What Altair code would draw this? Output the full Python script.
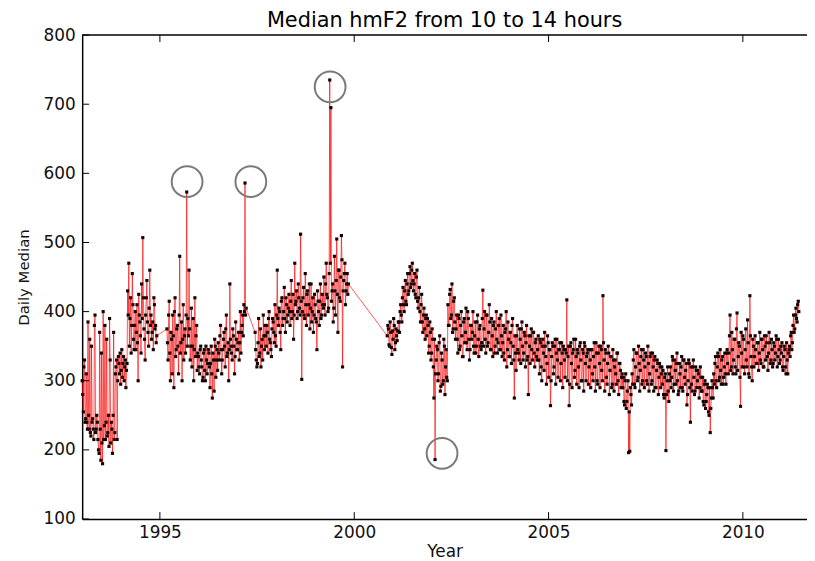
import altair as alt
import pandas as pd

STEP = 0.03  # sampling interval (years) used when reading the curve

# ---- values, segment by segment ----
# primary readings at start + i*STEP, secondary readings halfway between
seg_a_start = 1993.00
seg_a = [300, 255, 330, 245,
         240, 385, 230, 225, 350, 245, 215, 395, 230, 240,
         200, 370, 185, 210, 400,
         235, 215, 360, 225, 205, 330, 240, 195, 370, 225,
         320, 215, 335, 310, 295, 345, 325, 300, 330, 315,
         430, 470, 390, 340, 455, 360,
         380, 345, 410, 300, 395, 365, 440,
         507, 375, 330, 420, 385, 350, 460,
         395, 370, 345, 410, 380, 365]
seg_a2 = [280, 320, 240, 310,
          230, 250, 360, 220, 240, 230, 380, 225, 250, 215,
          195, 230, 340, 180, 215,
          380, 240, 220, 250, 390, 210, 230, 250, 215, 310,
          330, 300, 325, 340, 315, 305, 335, 320, 290, 325,
          395, 350, 420, 380, 410, 345,
          400, 370, 355, 425, 385, 340, 390,
          420, 360, 395, 445, 370, 405, 380,
          360, 385, 420, 375, 355, 370]

seg_b_start = 1995.18
seg_b = [375, 330, 415, 300, 360, 395, 290, 420, 345, 380, 310,
         480, 355, 300, 410, 365, 340, 573, 390,
         460, 330, 405, 350, 300, 420, 365, 315,
         335, 310, 350, 320, 305, 345, 300, 330, 325, 340,
         290, 350, 275, 330, 360, 305, 345,
         355, 330, 380, 310, 345, 370, 320, 395, 340, 300,
         440, 350, 330, 365, 310, 385, 345, 355, 330, 400, 370, 395, 410, 586,
         405]
seg_b2 = [355, 395, 340, 370, 310, 365, 400, 335, 375, 350, 395,
          340, 385, 360, 330, 375, 395, 350, 365,
          375, 350, 320, 390, 345, 335, 380, 340,
          320, 345, 330, 300, 340, 315, 350, 310, 345, 320,
          325, 310, 340, 285, 350, 330, 315,
          340, 365, 345, 330, 360, 350, 375, 335, 355, 345,
          360, 340, 375, 350, 335, 360, 345, 370, 355, 340, 380, 365, 400, 395,
          400]

seg_c_start = 1997.45
seg_c = [370, 330, 325, 390, 340, 320, 360, 395, 345,
         365, 380, 340, 400, 355, 335, 390, 370, 410, 350,
         460, 380, 400, 345, 420, 390, 435, 370, 410, 395,
         425, 380, 445, 400, 360, 470, 415, 390, 440, 405,
         512, 302, 420, 395, 455, 380, 430, 410, 375, 440,
         400, 370, 425, 390, 345, 415, 380, 440, 395, 410,
         450, 395, 470, 420, 405, 735, 695, 430, 385, 480,
         395, 505, 370, 460, 415, 510, 320, 445, 470, 430, 455, 440]
seg_c2 = [345, 320, 355, 335, 375, 350, 330, 365, 380,
          350, 370, 390, 360, 345, 375, 385, 355, 365, 395,
          390, 405, 370, 415, 380, 400, 390, 420, 385, 405,
          400, 415, 390, 425, 395, 410, 430, 400, 420, 395,
          415, 400, 435, 390, 410, 425, 395, 440, 405, 385,
          420, 395, 410, 385, 430, 400, 415, 390, 425, 405,
          410, 440, 425, 400, 455, 470, 415, 440, 405, 430,
          445, 425, 460, 420, 450, 475, 430, 455, 410, 440, 425, 435]

seg_d_start = 2000.85
seg_d = [365, 375, 350, 370, 338, 360, 380, 355, 365, 372,
         385, 400, 395, 420, 410, 430, 415, 440, 425, 455, 435, 460, 445,
         440, 425, 450, 415, 420, 400, 410, 385, 395, 375, 390,
         365, 380, 350, 370, 340, 360, 275, 186, 330,
         345, 310, 365, 292, 330, 300, 350, 320, 305,
         410, 380, 432, 395, 370, 415, 385,
         375, 360, 395, 345, 380, 365, 335, 390, 370, 355, 400, 360, 345, 380, 370, 350, 365, 340, 385, 360, 375, 350, 355,
         431, 375, 360, 395, 350, 370, 385, 345, 365, 380, 340, 375, 360, 355, 390, 345, 365,
         355, 340, 370, 400, 345, 360, 335, 355, 380, 350, 275, 340, 365, 345, 330, 360, 375, 350, 340, 365, 355, 330, 280, 350, 365, 345, 370, 340, 355, 335,
         345, 330, 360, 320, 350, 340, 370, 335, 325, 355, 345, 264, 335, 350, 320, 360, 340, 330, 345, 355, 325, 340, 350, 330, 345,
         417, 335, 264, 350, 325, 340, 360, 315, 335, 345, 320, 350, 330, 300, 340, 355, 325, 335, 345, 320,
         330, 345, 310, 335, 320, 355, 300, 340, 325, 350, 315, 423, 330, 345, 305, 325, 340, 315, 335, 295, 330, 320, 310, 340, 300, 325, 315, 305,
         290, 270, 300, 260, 285, 196, 198, 280,
         310, 330, 295, 320, 340, 305, 325, 315, 345, 300, 330, 320, 335, 295, 325, 310, 340, 300, 320, 330, 290, 315, 325, 305, 320, 310,
         295, 280, 305, 199, 300, 285, 310,
         320, 305, 330, 295, 315, 325, 300, 285, 310, 320, 290, 330, 305, 315, 265, 300, 325, 240, 295, 320, 305, 285, 315, 300, 310, 290, 305,
         285, 270, 295, 260, 280, 290, 250, 225, 275, 290,
         310, 325, 300, 320, 335, 305, 315, 330, 295, 320, 310, 340, 325,
         340, 395, 320, 345, 330, 360, 310, 398, 335, 350, 263, 340, 365, 320, 345, 330, 388, 310, 423, 335,
         300, 350, 335, 345, 325, 355, 340, 330, 360, 345, 320, 350, 365, 335, 340, 355, 330, 345, 325, 350, 340, 360, 335, 345, 330,
         340, 320, 335, 345, 310, 330, 340,
         350, 365, 345, 380, 370, 395, 390, 410, 400]
seg_d2 = [380, 352, 385, 348, 372, 390, 345, 375, 358, 385,
          370, 410, 385, 435, 400, 445, 410, 455, 430, 465, 440, 470, 430,
          455, 420, 460, 405, 435, 385, 425, 370, 405, 360, 395,
          390, 340, 385, 330, 375, 320, 360, 310, 350,
          300, 355, 285, 340, 295, 360, 280, 345, 300,
          380, 425, 390, 440, 375, 420, 360,
          395, 340, 390, 350, 400, 335, 385, 355, 405, 345, 390, 330, 380, 360, 400, 340, 385, 350, 395, 335, 380, 345, 390,
          350, 400, 340, 395, 355, 410, 345, 390, 335, 385, 350, 400, 340, 380, 345, 395, 335,
          380, 330, 375, 320, 385, 335, 370, 325, 390, 330, 365, 315, 380, 340, 375, 325, 385, 330, 370, 320, 380, 335, 365, 325, 375, 330, 370, 320, 360, 330,
          365, 310, 355, 300, 360, 315, 350, 295, 365, 305, 345, 300, 355, 310, 350, 295, 360, 305, 345, 300, 355, 290, 345, 305, 340,
          300, 350, 295, 355, 290, 345, 305, 360, 295, 340, 290, 355, 300, 345, 285, 350, 300, 340, 295, 345,
          290, 345, 300, 355, 285, 340, 295, 350, 290, 345, 300, 355, 285, 340, 295, 350, 280, 335, 290, 345, 285, 330, 295, 340, 280, 325, 290, 310,
          305, 265, 310, 270, 300, 255, 290, 265,
          295, 345, 290, 340, 300, 350, 285, 335, 295, 345, 290, 340, 300, 350, 285, 335, 295, 340, 285, 335, 290, 330, 280, 325, 290, 320,
          315, 275, 310, 280, 320, 270, 300,
          290, 335, 285, 330, 295, 340, 280, 325, 290, 335, 285, 330, 295, 325, 280, 330, 290, 320, 285, 330, 280, 320, 290, 315, 275, 320, 285,
          305, 265, 300, 270, 295, 255, 290, 260, 300, 275,
          295, 335, 290, 340, 300, 345, 295, 335, 305, 340, 295, 345, 310,
          365, 315, 370, 310, 360, 320, 375, 315, 355, 305, 370, 320, 360, 310, 375, 320, 355, 305, 365, 320,
          360, 320, 365, 325, 355, 315, 370, 325, 360, 320, 365, 330, 355, 315, 370, 325, 360, 320, 355, 330, 365, 320, 360, 325, 350,
          355, 315, 350, 320, 355, 310, 345,
          335, 370, 355, 395, 375, 405, 385, 415, 395]

# circled outliers
circle_years = [1995.70, 1997.34, 1999.38, 2002.26]
circle_values = [588, 588, 725, 195]

x_ticks = [1995, 2000, 2005, 2010]
y_ticks = [100, 200, 300, 400, 500, 600, 700, 800]

rows = []
for start, vals, vals2 in [(seg_a_start, seg_a, seg_a2), (seg_b_start, seg_b, seg_b2),
                           (seg_c_start, seg_c, seg_c2), (seg_d_start, seg_d, seg_d2)]:
    for i, v in enumerate(vals):
        rows.append({"year": round(start + i * STEP, 4), "value": v})
    for i, v in enumerate(vals2[:len(vals) - 1]):
        rows.append({"year": round(start + STEP / 2 + i * STEP, 4), "value": v})
df = pd.DataFrame(rows).sort_values("year").reset_index(drop=True)

circ_df = pd.DataFrame({"year": circle_years, "value": circle_values})
xt_df = pd.DataFrame({"year": x_ticks})
yt_df = pd.DataFrame({"value": y_ticks})

W, H = 730, 487.4
FONT = "DejaVu Sans"

x_scale = alt.Scale(domain=[1993.0, 2011.65], nice=False, zero=False)
y_scale = alt.Scale(domain=[100, 800], nice=False, zero=False)

x_axis = alt.Axis(values=x_ticks, format="d", title="Year", grid=False, ticks=False,
                  labelPadding=6, titlePadding=3,
                  domainColor="black", domainWidth=1.5,
                  labelFont=FONT, labelFontSize=17, labelColor="#111111",
                  titleFont=FONT, titleFontSize=17, titleFontWeight="normal",
                  titleColor="#111111")
y_axis = alt.Axis(values=y_ticks, title="Daily Median", grid=False, ticks=False,
                  labelPadding=7, titlePadding=12,
                  domainColor="black", domainWidth=1.5,
                  labelFont=FONT, labelFontSize=17, labelColor="#111111",
                  titleFont=FONT, titleFontSize=15, titleFontWeight="normal",
                  titleColor="#111111")

x_enc = alt.X("year:Q", scale=x_scale, axis=x_axis)
y_enc = alt.Y("value:Q", scale=y_scale, axis=y_axis)

line = alt.Chart(df).mark_line(color="#ff0000", strokeWidth=1, opacity=0.65).encode(
    x=x_enc, y=y_enc)
pts = alt.Chart(df).mark_square(size=10, color="#140000", opacity=1).encode(
    x=x_enc, y=y_enc)
circles = alt.Chart(circ_df).mark_point(shape="circle", filled=False, size=960,
                                        color="#7a7a7a", strokeWidth=2, opacity=1).encode(
    x=x_enc, y=y_enc)

bottom_ticks = alt.Chart(xt_df).mark_rule(color="black", strokeWidth=1).encode(
    x=x_enc, y=alt.value(H), y2=alt.value(H - 7))
top_ticks = alt.Chart(xt_df).mark_rule(color="black", strokeWidth=1).encode(
    x=x_enc, y=alt.value(0), y2=alt.value(7))
left_ticks = alt.Chart(yt_df).mark_rule(color="black", strokeWidth=1).encode(
    y=y_enc, x=alt.value(0), x2=alt.value(7))
top_frame = alt.Chart(pd.DataFrame({"k": [0]})).mark_rule(color="black", strokeWidth=1.5).encode(
    x=alt.value(0), x2=alt.value(W), y=alt.value(0))

chart = alt.layer(line, pts, circles, bottom_ticks, top_ticks, left_ticks, top_frame).properties(
    width=W, height=H, background="white",
    title=alt.TitleParams("Median hmF2 from 10 to 14 hours", font=FONT, fontSize=21,
                          fontWeight="normal", color="black", anchor="middle", offset=-5),
    autosize=alt.AutoSizeParams(type="none"),
    padding={"left": 74.7, "top": 25.3, "right": 0, "bottom": 40},
).configure_view(stroke=None)

chart.save("out.html", embed_options={"renderer": "svg", "actions": False})
